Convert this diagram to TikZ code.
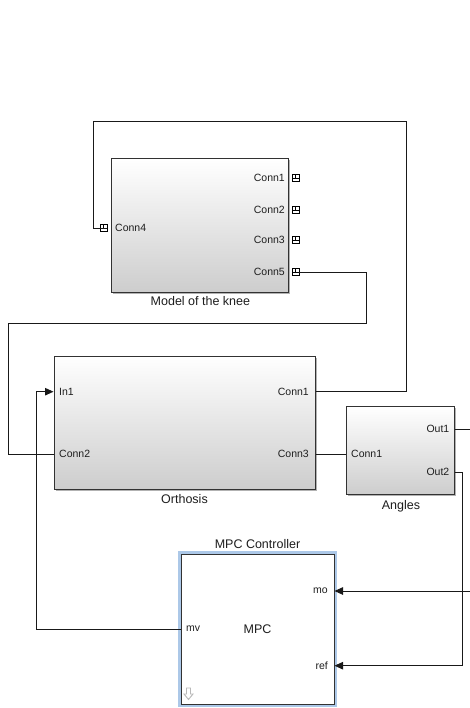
\documentclass[tikz,border=0pt]{standalone}
\usepackage{fontspec}
\setmainfont{Liberation Sans}
\usetikzlibrary{arrows.meta,shadows}
\definecolor{edgegray}{RGB}{50,50,50}
\definecolor{fadegray}{RGB}{205,205,205}
\definecolor{halo}{RGB}{172,200,232}
\definecolor{txtgray}{RGB}{30,30,30}
\begin{document}
\begin{tikzpicture}[x=1pt,y=-1pt,>={Triangle[length=8.5pt,width=7.5pt]},
  block/.style={draw=edgegray,line width=1pt,top color=white,middle color=white,bottom color=fadegray,
    drop shadow={shadow xshift=1.5pt,shadow yshift=-1.5pt,fill=black!50,opacity=0.6},inner sep=0},
  mpcbox/.style={draw=edgegray,line width=1pt,fill=white,preaction={draw=halo,line width=6pt},inner sep=0},
  port/.style={inner sep=0,text=txtgray,font=\fontsize{10.5}{12}\selectfont},
  blockname/.style={inner sep=0,text=txtgray,font=\fontsize{12.5}{14}\selectfont},
  pconn/.style={draw=black,line width=0.8pt,fill=white,minimum size=7pt,inner sep=0,
    path picture={\draw[line width=0.7pt] (path picture bounding box.west) -- (path picture bounding box.east)
      (path picture bounding box.north) -- (path picture bounding box.center);}},
  wire/.style={draw=black!90,line width=0.9pt}]
\useasboundingbox[fill=white] (0,0) rectangle (469,708);
\node[block,minimum width=177pt,minimum height=133pt] (knee) at (200.4,225.5) {};
\node[blockname,below=4pt] (kneename) at (knee.south) {Model of the knee};
\foreach \n/\y in {1/178,2/210,3/240,5/272} {
  \node[port,anchor=east] (kc\n) at (285,\y) {Conn\n};
  \node[pconn] (kp\n) at (295.5,\y) {};
}
\node[port,anchor=west] (kc4) at (115,228) {Conn4};
\node[pconn,xscale=-1] (kp4) at (103.5,228) {};
\node[block,minimum width=261pt,minimum height=133pt] (orth) at (184.5,422.5) {};
\node[blockname,below=5pt] (orthname) at (orth.south) {Orthosis};
\node[port,anchor=west] (oin1) at (59,391.7) {In1};
\node[port,anchor=west] (oc2) at (59,454.3) {Conn2};
\node[port,anchor=east] (oc1) at (309,391.7) {Conn1};
\node[port,anchor=east] (oc3) at (309,454.3) {Conn3};
\node[block,minimum width=108pt,minimum height=88pt] (ang) at (400.9,450.9) {};
\node[blockname,below=5pt] (angname) at (ang.south) {Angles};
\node[port,anchor=west] (ac1) at (351,454.3) {Conn1};
\node[port,anchor=east] (ao1) at (449.5,429.3) {Out1};
\node[port,anchor=east] (ao2) at (449.5,472.3) {Out2};
\node[mpcbox,minimum width=153pt,minimum height=150pt] (mpc) at (257.5,629.2) {};
\node[blockname,above=5pt] (mpcname) at (mpc.north) {MPC Controller};
\node[blockname] (mpctxt) at (mpc.center) {MPC};
\node[port,anchor=west] (mmv) at (186,629) {mv};
\node[port,anchor=east] (mmo) at (328,591) {mo};
\node[port,anchor=east] (mref) at (328,665.7) {ref};
\draw[gray!55,line width=0.9pt,line join=miter] (186.5,688) -- (190.5,688) -- (190.5,694) -- (193,694)
  -- (188.5,699.5) -- (184,694) -- (186.5,694) -- cycle;
\coordinate (tl) at (93,121);
\coordinate (tr) at (406.5,121);
\coordinate (ml) at (8.5,323);
\coordinate (mr) at (366,323);
\coordinate (mvx) at (36,629);
\coordinate (r1) at (482,429.3);
\coordinate (r2) at (462.7,472.3);
\draw[wire] (kp4.west) -| (tl) -- (tr) |- (orth.east |- oc1);
\draw[wire] (kp5.east) -| (mr) -- (ml) |- (orth.west |- oc2);
\draw[wire] (orth.east |- oc3) -- (ang.west |- ac1);
\draw[wire,->] (mpc.west |- mmv) -- (mvx) |- (orth.west |- oin1);
\draw[wire,->] (ang.east |- ao1) -- (r1) |- (mpc.east |- mmo);
\draw[wire,->] (ang.east |- ao2) -- (r2) |- (mpc.east |- mref);
\end{tikzpicture}
\end{document}
